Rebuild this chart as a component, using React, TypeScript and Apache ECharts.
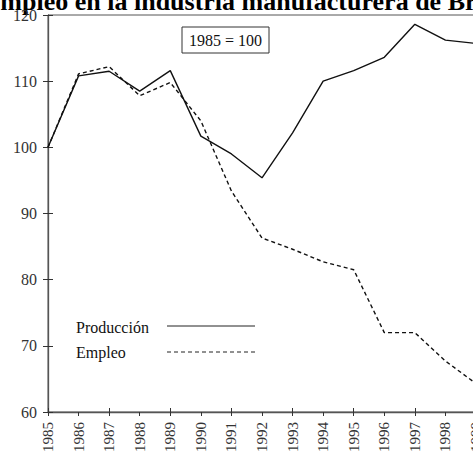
import React, { useEffect, useRef } from "react";
import * as echarts from "echarts";

const years = ["1985","1986","1987","1988","1989","1990","1991","1992","1993","1994","1995","1996","1997","1998","1999"];
const produccion = [100, 110.8, 111.5, 108.5, 111.6, 101.7, 99.0, 95.4, 102.2, 110.0, 111.6, 113.6, 118.6, 116.2, 115.7];
const empleo = [100, 111.1, 112.2, 107.8, 109.8, 104.0, 93.4, 86.3, 84.6, 82.7, 81.5, 72.0, 72.0, 67.7, 64.3];
const seriesNames = ["Producción", "Empleo"];
const titleText = "Empleo en la industria manufacturera de Brasil";
const baseNote = "1985 = 100";

const FONT = "'Liberation Serif', 'Times New Roman', serif";

export default function App() {
  const ref = useRef<HTMLDivElement>(null);
  useEffect(() => {
    if (!ref.current) return;
    const chart = echarts.init(ref.current, undefined, { renderer: "svg" });
    const axisColor = "#555";
    chart.setOption({
      animation: false,
      backgroundColor: "#fff",
      grid: {
        left: 48,
        top: 15,
        bottom: 40,
        right: -3,
        outerBoundsMode: "none",
        containLabel: false,
        show: true,
        borderColor: axisColor,
        borderWidth: 1,
      },
      xAxis: [
        {
          type: "category",
          data: years,
          boundaryGap: false,
          axisLine: { lineStyle: { color: axisColor, width: 1.3 } },
          axisTick: { show: true, length: 4, lineStyle: { color: "#333" } },
          axisLabel: { rotate: 90, margin: 10, fontSize: 15, fontFamily: FONT, color: "#333" },
          splitLine: { show: false },
        },
        {
          type: "category",
          data: years,
          boundaryGap: false,
          position: "bottom",
          axisLine: { show: false },
          axisTick: { show: true, inside: true, length: 4, lineStyle: { color: "#333" } },
          axisLabel: { show: false },
          splitLine: { show: false },
        },
      ],
      yAxis: [
        {
          type: "value",
          min: 60,
          max: 120,
          interval: 10,
          axisLine: { show: true, lineStyle: { color: axisColor, width: 1.3 } },
          axisTick: { show: true, length: 5, lineStyle: { color: "#333" } },
          axisLabel: { margin: 11, fontSize: 16, fontFamily: FONT, color: "#333" },
          splitLine: { show: false },
        },
        {
          type: "value",
          min: 60,
          max: 120,
          interval: 10,
          position: "left",
          axisLine: { show: false },
          axisTick: { show: true, inside: true, length: 5, lineStyle: { color: "#333" } },
          axisLabel: { show: false },
          splitLine: { show: false },
        },
      ],
      series: [
        {
          name: seriesNames[0],
          type: "line",
          data: produccion,
          xAxisIndex: 0,
          yAxisIndex: 0,
          symbol: "none",
          lineStyle: { color: "#111", width: 1.4, type: "solid" },
        },
        {
          name: seriesNames[1],
          type: "line",
          data: empleo,
          xAxisIndex: 0,
          yAxisIndex: 0,
          symbol: "none",
          lineStyle: { color: "#111", width: 1.4, type: [4, 3] },
        },
      ],
      graphic: [
        {
          type: "text",
          left: -17,
          top: -12,
          style: { text: titleText, font: `bold 26px ${FONT}`, fill: "#000" },
        },
        {
          type: "rect",
          shape: { x: 182, y: 27, width: 87, height: 26 },
          style: { fill: "#fff", stroke: "#333", lineWidth: 1 },
        },
        {
          type: "text",
          x: 225.5,
          y: 40,
          style: { text: baseNote, font: `16px ${FONT}`, fill: "#111", align: "center", verticalAlign: "middle" },
        },
        {
          type: "text",
          x: 76,
          y: 327,
          style: { text: seriesNames[0], font: `16px ${FONT}`, fill: "#111", verticalAlign: "middle" },
        },
        {
          type: "line",
          shape: { x1: 167, y1: 326, x2: 255, y2: 326 },
          style: { stroke: "#222", lineWidth: 1 },
        },
        {
          type: "text",
          x: 76,
          y: 352,
          style: { text: seriesNames[1], font: `16px ${FONT}`, fill: "#111", verticalAlign: "middle" },
        },
        {
          type: "line",
          shape: { x1: 167, y1: 352, x2: 255, y2: 352 },
          style: { stroke: "#222", lineWidth: 1, lineDash: [4, 3] },
        },
      ],
    });
    return () => chart.dispose();
  }, []);
  return (
    <div
      ref={ref}
      style={{ position: "absolute", left: 0, top: 0, width: 473, height: 452, overflow: "hidden" }}
    />
  );
}
